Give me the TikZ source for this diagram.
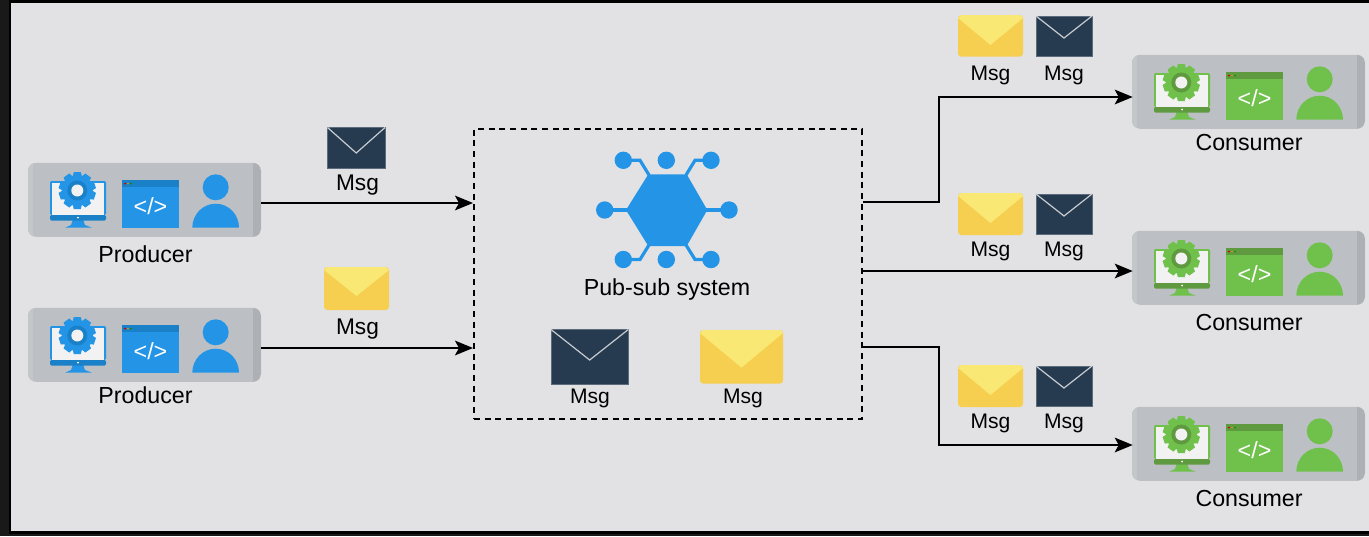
\documentclass[tikz,border=0pt]{standalone}
\usepackage{fontspec}
\setmainfont{Liberation Sans}
\usetikzlibrary{arrows.meta,calc}
\definecolor{bgc}{HTML}{E2E2E4}
\definecolor{boxc}{HTML}{BCC0C4}
\definecolor{boxl}{HTML}{C4C7CA}
\definecolor{boxr}{HTML}{ADB1B5}
\definecolor{bluem}{HTML}{2394E6}
\definecolor{blued}{HTML}{1A80C8}
\definecolor{greenm}{HTML}{70C04C}
\definecolor{greend}{HTML}{5F9A41}
\definecolor{scr}{HTML}{F2F2F2}
\definecolor{envd}{HTML}{263A50}
\definecolor{envl}{HTML}{C8CCD0}
\definecolor{envy}{HTML}{F6CF50}
\definecolor{envf}{HTML}{F9E873}
\tikzset{
  lab/.style={inner sep=0pt,text=black,font=\fontsize{17.4}{20}\selectfont},
  msgbig/.style={inner sep=0pt,text=black,font=\fontsize{17}{20}\selectfont},
  msgsmall/.style={inner sep=0pt,text=black,font=\fontsize{15.8}{18}\selectfont},
  boxnode/.style={inner sep=0pt,minimum width=174.75pt,minimum height=55.5pt,rounded corners=6pt,fill=boxc},
  flow/.style={draw=black,line width=1.5pt,-{Stealth[length=13.5pt,width=11pt,inset=3pt]}},
  linkl/.style={line width=2.4pt,draw=bluem}
}
% #1 x, #2 y (top left), #3 main, #4 dark, #5 node name
\newcommand{\iconrow}[5]{%
  \node[boxnode] (#5) at (#1+116.5,#2+36.8) {};
  \begin{scope}[shift={(#1,#2)}]
    \begin{scope}
      \clip[rounded corners=6pt] (0,0) rectangle (233,73.6);
      \fill[boxl] (0,0) rectangle (5,74);
      \fill[boxr] (225,0) rectangle (233,74);
    \end{scope}
    % monitor
    \fill[#3] (45,56) -- (55,56) -- (57,62) -- (64,64.7) -- (37,64.7) -- (43,62) -- cycle;
    \fill[#3,rounded corners=1pt] (22,18) rectangle (78,52);
    \fill[scr] (24,20) rectangle (76,52);
    \fill[#4,rounded corners=1pt] (22,52) rectangle (78,57.5);
    \fill[white] (50,54.5) circle[radius=1];
    % gear
    \foreach \a in {0,36,...,324}{
      \fill[#3,rotate around={\a:(49.3,27.5)}] (45.8,9) -- (52.8,9) -- (54.5,16) -- (44.1,16) -- cycle;
    }
    \fill[#3] (49.3,27.5) circle[radius=15.5];
    \fill[#4] (49.3,27.5) circle[radius=10];
    \fill[scr] (49.3,27.5) circle[radius=6];
    % window
    \fill[#3] (94.3,17.3) rectangle (150.7,64.7);
    \fill[#4] (94.3,17.3) rectangle (150.7,24);
    \fill[red!75!black] (97,20.7) circle[radius=1];
    \fill[orange] (100,20.7) circle[radius=1];
    \fill[green!60!black] (103,20.7) circle[radius=1];
    \node[inner sep=0pt,text=white,font=\fontsize{17.5}{20}\selectfont] (#5code) at (122.5,43) {</>};
    % person
    \fill[#3] (187.7,24.3) circle[radius=13];
    \fill[#3] (164.3,64.7) .. controls (164.3,51.4) and (174.8,40.7) .. (187.7,40.7)
       .. controls (200.6,40.7) and (211,51.4) .. (211,64.7) -- cycle;
  \end{scope}}
% #1 x0 #2 y0 #3 x1 #4 y1 #5 tip y
\newcommand{\darkenv}[5]{%
  \fill[envd,draw=envd!75!white,line width=.3pt] (#1,#2) rectangle (#3,#4);
  \draw[envl,line width=.9pt] (#1,#2) -- ({(#1+#3)/2},#5) -- (#3,#2);}
\newcommand{\yellowenv}[5]{%
  \fill[envy,rounded corners=2.5pt] (#1,#2) rectangle (#3,#4);
  \fill[envf] (#1,#2+3) -- (#1+3,#2) -- (#3-3,#2) -- (#3,#2+3) -- ({(#1+#3)/2},#5) -- cycle;}
\begin{document}
\begin{tikzpicture}[x=0.75pt,y=-0.75pt]
\useasboundingbox (0,0) rectangle (1369,536);
\fill[black!90] (0,0) rectangle (1369,536);
\fill[black] (9,0) rectangle (1369,534);
\fill[bgc] (11,3) rectangle (1369,531);

% producers and consumers
\iconrow{28}{163}{bluem}{blued}{p1}
\iconrow{28}{308}{bluem}{blued}{p2}
\iconrow{1132}{55}{greenm}{greend}{c1}
\iconrow{1132}{231}{greenm}{greend}{c2}
\iconrow{1132}{407}{greenm}{greend}{c3}
\node[lab] (pl1) at (145.5,254) {Producer};
\node[lab] (pl2) at (145.5,395) {Producer};
\node[lab] (cl1) at (1249,143) {Consumer};
\node[lab] (cl2) at (1249,323) {Consumer};
\node[lab] (cl3) at (1249,499) {Consumer};

% pub-sub system
\node[draw=black,line width=1.5pt,dash pattern=on 4.5pt off 3.5pt,inner sep=0pt,
      minimum width=291pt,minimum height=217.5pt] (ps) at (668,274) {};
\draw[linkl] (623.3,160.3) -- (640,160.3) -- (649,175);
\draw[linkl] (711,160.3) -- (695,160.3) -- (686,175);
\draw[linkl] (604.7,210) -- (628,210);
\draw[linkl] (729,210) -- (705,210);
\draw[linkl] (623.3,259.5) -- (640,259.5) -- (649,245);
\draw[linkl] (711,259.5) -- (695,259.5) -- (686,245);
\fill[bluem] (626,210) -- (648.3,174.3) -- (686.7,174.3) -- (707.3,210) -- (686.7,246) -- (648.3,246) -- cycle;
\foreach \cx/\cy in {623.3/160.3,666.3/160.3,711/160.3,604.7/210,729/210,623.3/259.5,666.3/259.5,711/259.5}{
  \fill[bluem] (\cx,\cy) circle[radius=8.7];
}
\node[lab] (pst) at (667,289) {Pub-sub system};
\darkenv{551}{329.5}{628.3}{384}{360}
\yellowenv{700}{330}{783}{383.7}{367.7}
\node[msgsmall] (m1) at (590,398.5) {Msg};
\node[msgsmall] (m2) at (743,398.5) {Msg};

% left envelopes
\darkenv{327.5}{127.5}{385}{168.5}{153}
\yellowenv{324}{267}{389}{310}{296}
\node[msgbig] (ml1) at (357.5,185.5) {Msg};
\node[msgbig] (ml2) at (357.5,329.5) {Msg};

% right envelopes
\yellowenv{958}{15}{1023}{56.7}{45}
\darkenv{1036}{16}{1092}{56}{38}
\node[msgsmall] (r1a) at (990.5,75.5) {Msg};
\node[msgsmall] (r1b) at (1064,75.5) {Msg};
\yellowenv{958}{193}{1023}{235}{223}
\darkenv{1036}{194}{1092}{234}{216}
\node[msgsmall] (r2a) at (990.5,251.5) {Msg};
\node[msgsmall] (r2b) at (1064,251.5) {Msg};
\yellowenv{958}{365}{1023}{407}{395}
\darkenv{1036}{366}{1092}{406}{388}
\node[msgsmall] (r3a) at (990.5,423.5) {Msg};
\node[msgsmall] (r3b) at (1064,423.5) {Msg};

% connectors
\coordinate (s1) at (p1.east |- 0,203);
\coordinate (s2) at (p2.east |- 0,348);
\coordinate (a1) at (ps.west |- s1);
\coordinate (a2) at (ps.west |- s2);
\draw[flow] (s1) -- (a1);
\draw[flow] (s2) -- (a2);
\coordinate (o1) at (ps.east |- 0,202);
\coordinate (i1) at ([xshift=0.75pt]c1.west |- 0,97);
\draw[flow] (o1) -- (939,202) -- (939,97) -- (i1);
\coordinate (o2) at (ps.east |- 0,271);
\coordinate (i2) at ([xshift=0.75pt]c2.west |- 0,271);
\draw[flow] (o2) -- (i2);
\coordinate (o3) at (ps.east |- 0,347);
\coordinate (i3) at ([xshift=0.75pt]c3.west |- 0,445);
\draw[flow] (o3) -- (939,347) -- (939,445) -- (i3);
\end{tikzpicture}
\end{document}
